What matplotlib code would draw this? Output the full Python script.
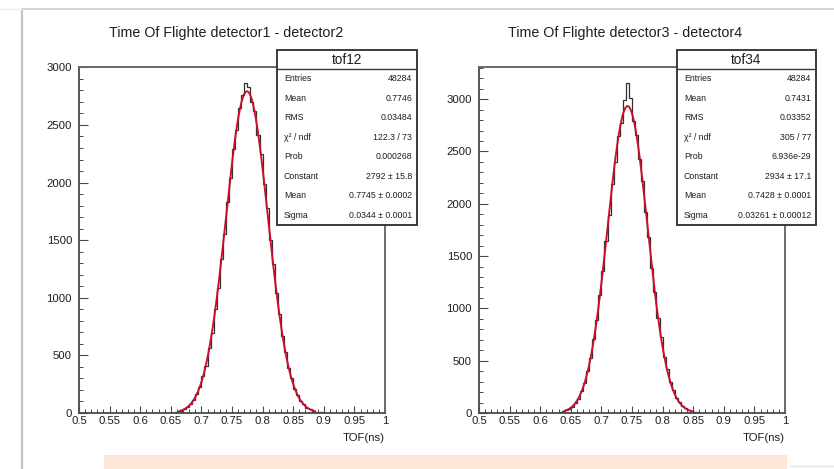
import numpy as np
import matplotlib
matplotlib.use("Agg")
import matplotlib.pyplot as plt
from matplotlib.patches import Rectangle
from matplotlib.lines import Line2D
from matplotlib.ticker import MultipleLocator, FuncFormatter

plt.rcParams['font.family'] = ['Liberation Sans', 'DejaVu Sans']

# ---------------- data ----------------
bin_lo, bin_hi, n_bins = 0.5, 1.0, 100

titles = ["Time Of Flighte detector1 - detector2", "Time Of Flighte detector3 - detector4"]
hist_names = ["tof12", "tof34"]

# counts per bin (bin width 0.005 from 0.5 to 1.0)
counts_tof12 = ([0] * 30 +
    [4, 9, 15, 20, 36, 50, 81, 110, 168, 224,
     318, 412, 560, 698, 905, 1085, 1340, 1552, 1830, 2040,
     2295, 2455, 2650, 2760, 2860, 2830, 2700, 2620, 2410, 2250,
     1990, 1780, 1500, 1290, 1040, 860, 665, 530, 390, 300,
     210, 155, 102, 75, 46, 33, 19, 13, 7, 5,
     3] + [0] * 19)

counts_tof34 = ([0] * 26 +
    [8, 17, 24, 43, 60, 99, 138, 210, 282, 400,
     522, 705, 885, 1130, 1355, 1645, 1890, 2185, 2400, 2650,
     2770, 2990, 3150, 3010, 2790, 2660, 2430, 2215, 1920, 1680,
     1385, 1160, 905, 730, 540, 418, 292, 218, 142, 104,
     64, 45, 25, 18, 9, 6, 3] + [0] * 27)

# stats box contents
stat_labels = ["Entries", "Mean", "RMS", "\u03c7\u00b2 / ndf", "Prob", "Constant", "Mean", "Sigma"]
stats_tof12 = ["48284", "0.7746", "0.03484", "122.3 / 73", "0.000268",
               "2792 \u00b1 15.8", "0.7745 \u00b1 0.0002", "0.0344 \u00b1 0.0001"]
stats_tof34 = ["48284", "0.7431", "0.03352", "305 / 77", "6.936e-29",
               "2934 \u00b1 17.1", "0.7428 \u00b1 0.0001", "0.03261 \u00b1 0.00012"]

# gaussian fit parameters (constant, mean, sigma) and fit range
fit_tof12 = [2792, 0.7745, 0.0344]
fit_tof34 = [2934, 0.7428, 0.03261]
fit_range_tof12 = [0.665, 0.885]
fit_range_tof34 = [0.640, 0.850]

xticks_major = [0.5, 0.55, 0.6, 0.65, 0.7, 0.75, 0.8, 0.85, 0.9, 0.95, 1.0]
xlabel = "TOF(ns)"

# ---------------- figure ----------------
W, H = 834, 469
fig = plt.figure(figsize=(W / 100, H / 100), dpi=100)
fig.patch.set_facecolor("white")

def fx(px):
    return px / W

def fy(py):
    return 1 - py / H

# outer frame lines of the screenshot
fig.add_artist(Line2D([fx(22), fx(22)], [fy(10), fy(469)], color="#c4c4c4", lw=1.6))
fig.add_artist(Line2D([fx(22), fx(834)], [fy(9), fy(9)], color="#d4d4d4", lw=1.4))
fig.add_artist(Line2D([fx(0), fx(22)], [fy(9), fy(9)], color="#ececec", lw=1.0))
# peach band at bottom
fig.add_artist(Rectangle((fx(104), fy(469)), fx(787) - fx(104), fy(455) - fy(469),
                         transform=fig.transFigure, facecolor="#fde7d8", edgecolor="none"))
fig.add_artist(Line2D([fx(790), fx(834)], [fy(466), fy(466)], color="#e2e2e2", lw=1.0))

panels = [
    dict(x0=79, x1=385, title_cx=226, counts=counts_tof12, fit=fit_tof12, frange=fit_range_tof12,
         name=hist_names[0], stats=stats_tof12, box=(277, 417), title=titles[0]),
    dict(x0=479, x1=785, title_cx=625, counts=counts_tof34, fit=fit_tof34, frange=fit_range_tof34,
         name=hist_names[1], stats=stats_tof34, box=(677, 816), title=titles[1]),
]

ax_top, ax_bot = 67, 413
edges = np.linspace(bin_lo, bin_hi, n_bins + 1)
axis_col = "#4a4a4a"
txt_col = "#1e1e1e"

for p in panels:
    ax = fig.add_axes([fx(p["x0"]), fy(ax_bot), fx(p["x1"]) - fx(p["x0"]), fy(ax_top) - fy(ax_bot)])
    counts = np.array(p["counts"], dtype=float)
    ax.stairs(counts, edges, color="#303030", lw=0.9)
    c, m, s = p["fit"]
    xf = np.linspace(p["frange"][0], p["frange"][1], 400)
    ax.plot(xf, c * np.exp(-0.5 * ((xf - m) / s) ** 2), color="#c8102e", lw=1.4)

    ax.set_xlim(bin_lo, bin_hi)
    ax.set_ylim(0, 1.05 * counts.max())
    for side in ["top", "right"]:
        ax.spines[side].set_color("#6a6a6a")
        ax.spines[side].set_linewidth(1.4)
    for side in ["left", "bottom"]:
        ax.spines[side].set_color(axis_col)
        ax.spines[side].set_linewidth(1.3)

    ax.set_xticks(xticks_major)
    ax.xaxis.set_minor_locator(MultipleLocator(0.01))
    ax.xaxis.set_major_formatter(FuncFormatter(lambda v, pos: ("%g" % round(v, 3))))
    ax.yaxis.set_major_locator(MultipleLocator(500))
    ax.yaxis.set_minor_locator(MultipleLocator(100))
    ax.yaxis.set_major_formatter(FuncFormatter(lambda v, pos: "%d" % v))
    ax.tick_params(axis="x", which="major", direction="in", length=5, width=0.8, color=axis_col,
                   labelsize=8.2, pad=2, top=False, labelcolor=txt_col)
    ax.tick_params(axis="x", which="minor", direction="in", length=2.6, width=0.7, color=axis_col, top=False)
    ax.tick_params(axis="y", which="major", direction="in", length=6.5, width=0.8, color=axis_col,
                   labelsize=8.2, pad=5, right=False, labelcolor=txt_col)
    ax.tick_params(axis="y", which="minor", direction="in", length=3, width=0.7, color=axis_col, right=False)

    ax.text(1.0, -0.071, xlabel, transform=ax.transAxes, ha="right", va="center",
            fontsize=8.2, color=txt_col)

    fig.text(fx(p["title_cx"]), fy(33), p["title"], ha="center", va="center",
             fontsize=10.3, color=txt_col)

    # stats box
    bx0, bx1 = p["box"]
    by0, by1 = 50, 225
    bax = fig.add_axes([fx(bx0), fy(by1), fx(bx1) - fx(bx0), fy(by0) - fy(by1)])
    bax.set_xlim(0, 1)
    bax.set_ylim(0, 1)
    bax.axis("off")
    bax.add_patch(Rectangle((0, 0), 1, 1, facecolor="white", edgecolor="#3a3a3a", lw=1.4,
                            transform=bax.transAxes, clip_on=False))
    hdr = (by1 - 69) / (by1 - by0)
    bax.plot([0, 1], [hdr, hdr], color="#3a3a3a", lw=1.0)
    bax.text(0.5, (1 + hdr) / 2, p["name"], ha="center", va="center", fontsize=9.8, color=txt_col)
    nrow = len(stat_labels)
    for k, (lab, val) in enumerate(zip(stat_labels, p["stats"])):
        yc = hdr - (k + 0.5) * hdr / nrow
        bax.text(0.05, yc, lab, ha="left", va="center", fontsize=6.3, color=txt_col)
        bax.text(0.965, yc, val, ha="right", va="center", fontsize=6.3, color=txt_col)

fig.savefig("out.png", dpi=100, facecolor="white")
